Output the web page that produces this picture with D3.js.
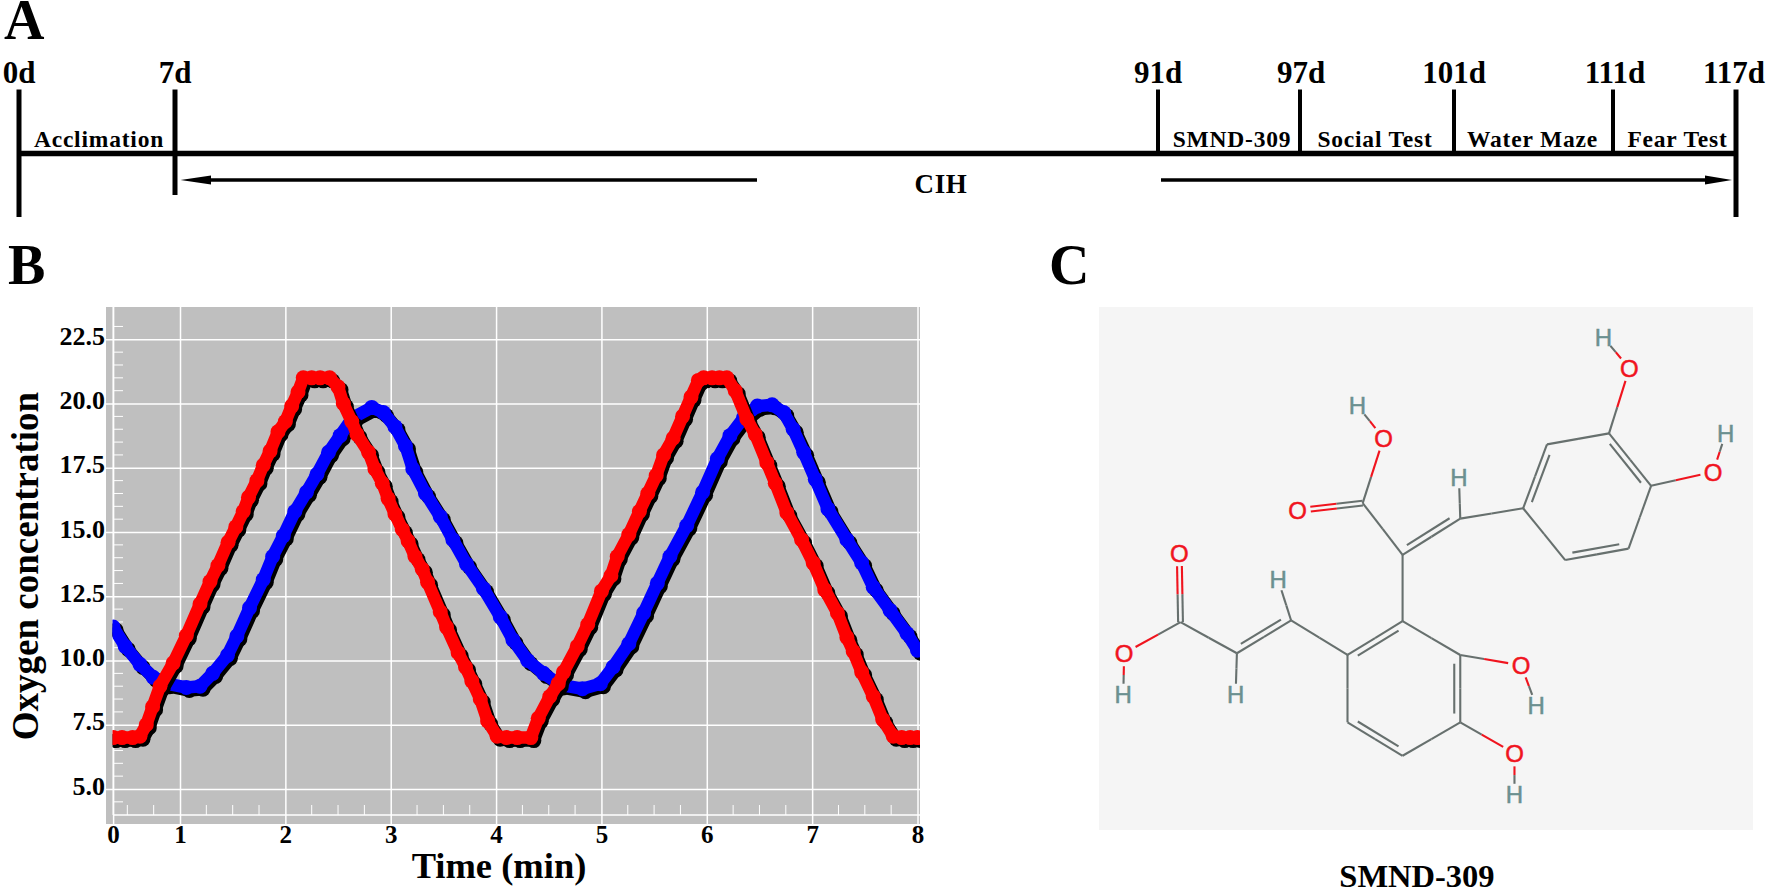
<!DOCTYPE html>
<html>
<head>
<meta charset="utf-8">
<script src="https://cdn.jsdelivr.net/npm/d3@7"></script>
<style>
    html, body { margin: 0; padding: 0; background: #fff; }
    text { font-family: "Liberation Serif", serif; font-weight: bold; fill: #000; }
    .mol text { font-family: "Liberation Sans", sans-serif; font-weight: normal; }
</style>
</head>
<body>
<div id="chart"></div>
<script>
// ---- A: timeline
const days = [0, 7, 91, 97, 101, 111, 117];
const dayLabels = ["0d", "7d", "91d", "97d", "101d", "111d", "117d"];
const stages = ["Acclimation", "SMND-309", "Social Test", "Water Maze", "Fear Test"];
const stageStart = [0, 91, 97, 101, 111];
const stageEnd = [7, 97, 101, 111, 117];

// ---- B: oxygen curves
const xTicks = [0.365, 1, 2, 3, 4, 5, 6, 7, 8];
const xTickLabels = ["0", "1", "2", "3", "4", "5", "6", "7", "8"];
const yTicks = [5, 7.5, 10, 12.5, 15, 17.5, 20, 22.5];

const redTime = [0.365, 0.45, 0.55, 0.62, 0.68, 0.74, 0.81, 0.935, 1.06, 1.19, 1.285, 1.36, 1.456, 1.53, 1.6, 1.65, 1.73, 1.79, 1.855, 1.93, 2.0, 2.06, 2.12, 2.17, 2.25, 2.33, 2.42, 2.5, 2.55, 2.63, 2.68, 2.79, 2.85, 2.92, 2.975, 3.04, 3.11, 3.165, 3.23, 3.3, 3.35, 3.47, 3.53, 3.64, 3.71, 3.77, 3.85, 3.92, 4.01, 4.1, 4.2, 4.33, 4.4, 4.51, 4.59, 4.64, 4.77, 4.87, 5.0, 5.09, 5.15, 5.26, 5.36, 5.44, 5.52, 5.59, 5.68, 5.77, 5.85, 5.92, 5.97, 6.05, 6.12, 6.19, 6.27, 6.38, 6.46, 6.57, 6.65, 6.76, 6.9, 7.01, 7.12, 7.24, 7.33, 7.39, 7.47, 7.58, 7.67, 7.77, 7.85, 7.93, 8.0];
const redO2 = [7, 7, 7, 7.05, 7.5, 8.2, 9.0, 9.9, 10.97, 12.2, 13.07, 13.7, 14.6, 15.2, 15.8, 16.35, 17.0, 17.6, 18.15, 18.9, 19.3, 19.9, 20.45, 21, 21, 21, 21, 20.65, 20, 19.3, 18.8, 18.1, 17.45, 16.9, 16.3, 15.7, 15.1, 14.65, 14.05, 13.55, 13.05, 11.9, 11.3, 10.3, 9.75, 9.2, 8.5, 7.65, 7.05, 7, 7, 7, 7.75, 8.6, 9.1, 9.55, 10.55, 11.4, 12.7, 13.3, 14.05, 14.9, 15.8, 16.5, 17.2, 18, 18.65, 19.5, 20.25, 20.9, 21, 21, 21, 21, 20.5, 19.4, 18.8, 17.7, 16.9, 15.75, 14.7, 13.8, 12.75, 11.85, 10.9, 10.35, 9.55, 8.6, 7.7, 7.05, 7, 7, 7];

const blueTime = [0.365, 0.48, 0.62, 0.745, 0.875, 1.06, 1.19, 1.31, 1.45, 1.54, 1.66, 1.79, 1.88, 1.98, 2.09, 2.2, 2.3, 2.41, 2.52, 2.64, 2.82, 2.93, 3.04, 3.14, 3.21, 3.33, 3.47, 3.59, 3.72, 3.88, 4.04, 4.16, 4.3, 4.45, 4.61, 4.82, 4.99, 5.11, 5.26, 5.4, 5.53, 5.65, 5.81, 5.96, 6.1, 6.22, 6.35, 6.48, 6.62, 6.73, 6.82, 6.92, 7.03, 7.15, 7.33, 7.47, 7.58, 7.74, 7.9, 8.0];
const blueO2 = [11.3, 10.55, 9.85, 9.35, 9.1, 8.95, 9.0, 9.5, 10.2, 10.95, 12.05, 13.15, 14.05, 14.85, 15.8, 16.55, 17.25, 18.1, 18.75, 19.45, 19.85, 19.65, 19.1, 18.35, 17.45, 16.5, 15.6, 14.7, 13.75, 12.8, 11.7, 10.8, 10, 9.5, 9.05, 8.9, 9.1, 9.75, 10.65, 11.85, 13, 14.05, 15.25, 16.55, 17.85, 18.75, 19.45, 19.9, 19.95, 19.65, 19, 18.1, 17.05, 15.9, 14.7, 13.8, 12.85, 11.95, 11.05, 10.4];

// ---- C: structure of SMND-309, atom places as drawn
const atomEl = ["C","C","C","C","C","C", "C","H","C","C","O","O","H", "C","C","C","C","C","C", "O","H","O","H", "C","H","C","H","C","O","O","H", "O","H","O","H"];
const atomX = [1000,1055,1198,1295,1243,1097, 855,852,722,630,480,678,618, 722,855,855,722,595,595, 995,1030,980,980, 465,435,340,337,210,207,80,78, 1245,1185,1438,1467];
const atomY = [605,420,388,540,722,755, 635,515,740,590,612,402,308, 932,1030,1225,1322,1225,1030, 1060,1175,1315,1435, 930,812,1025,1145,935,735,1025,1145, 200,110,500,388];
const bondFrom = [0,1,2,3,4,5, 0,6,6,8,9,9,11, 8,13,14,15,16,17,18, 14,19,15,21, 18,23,23,25,25,27,27,29, 2,31,3,33];
const bondTo   = [1,2,3,4,5,0, 6,7,8,9,10,11,12, 13,14,15,16,17,18,13, 19,20,21,22, 23,24,25,26,27,28,29,30, 31,32,33,34];
const bondOrder = [2,1,2,1,2,1, 1,1,2,1,2,1,1, 1,1,2,1,2,1,2, 1,1,1,1, 1,1,2,1,1,2,1,1, 1,1,1,1];
const bondSide  = [1,0,1,0,1,0, 0,0,1,0,0,0,0, 0,0,1,0,1,0,1, 0,0,0,0, 0,0,1,0,0,0,0,0, 0,0,0,0];

const WIDTH = 1771, HEIGHT = 892;

let svg = d3.select("#chart").append("svg")
    .attr("width", WIDTH)
    .attr("height", HEIGHT)
    .style("display", "block");

// panel letters
[["A", 4, 39], ["B", 8, 284], ["C", 1049, 284]].forEach(p => {
    svg.append("text").attr("x", p[1]).attr("y", p[2])
        .style("font-size", "56px").text(p[0]);
});

drawTimeline();
drawOxygen();
drawMolecule();

function drawTimeline() {
    let g = svg.append("g").attr("class", "timeline");

    // the schedule is not to scale in the figure
    let x = d3.scaleLinear().domain(days).range([19, 175, 1158, 1300, 1454, 1613, 1736]);
    let lineY = 153.5;

    g.append("line").attr("x1", x(0)).attr("x2", x(117))
        .attr("y1", lineY).attr("y2", lineY)
        .attr("stroke", "#000").attr("stroke-width", 5.5);

    let bottoms = {0: 217, 7: 195, 117: 217};
    g.selectAll(".day").data(days).enter().append("line")
        .attr("class", "day")
        .attr("x1", d => x(d)).attr("x2", d => x(d))
        .attr("y1", 89.5)
        .attr("y2", d => bottoms[d] || lineY)
        .attr("stroke", "#000")
        .attr("stroke-width", d => (d === 0 || d === 7 || d === 117) ? 5 : 4);

    let labelNudge = {97: 1, 111: 2, 117: -2};
    g.selectAll(".dayLabel").data(days).enter().append("text")
        .attr("class", "dayLabel")
        .attr("x", d => x(d) + (labelNudge[d] || 0))
        .attr("y", 82.5)
        .attr("text-anchor", "middle")
        .style("font-size", "31px")
        .text((d, i) => dayLabels[i]);

    let stageNudge = [2, 3, -2, -1, 3];
    g.selectAll(".stage").data(stages).enter().append("text")
        .attr("class", "stage")
        .attr("x", (d, i) => (x(stageStart[i]) + x(stageEnd[i])) / 2 + stageNudge[i])
        .attr("y", 147)
        .attr("text-anchor", "middle")
        .style("font-size", "23.5px")
        .style("letter-spacing", "0.8px")
        .text(d => d);

    // CIH arrows
    let arrowY = 180;
    g.append("line").attr("x1", 200).attr("x2", 757).attr("y1", arrowY).attr("y2", arrowY)
        .attr("stroke", "#000").attr("stroke-width", 3.5);
    g.append("line").attr("x1", 1161).attr("x2", 1710).attr("y1", arrowY).attr("y2", arrowY)
        .attr("stroke", "#000").attr("stroke-width", 3.5);
    g.append("path").attr("d", d3.line()([[180.5, arrowY], [211, arrowY - 4.5], [211, arrowY + 4.5]]) + "Z");
    g.append("path").attr("d", d3.line()([[1732, arrowY], [1705, arrowY - 4.5], [1705, arrowY + 4.5]]) + "Z");

    g.append("text").attr("x", 941).attr("y", 193)
        .attr("text-anchor", "middle")
        .style("font-size", "27px")
        .style("letter-spacing", "0.6px")
        .text("CIH");
}

function drawOxygen() {
    let panel = {left: 106, right: 920, top: 307, bottom: 824};
    let axisLeftPx = 113, axisBottomPx = 815;

    let g = svg.append("g").attr("class", "oxygen");

    g.append("rect")
        .attr("x", panel.left).attr("y", panel.top)
        .attr("width", panel.right - panel.left)
        .attr("height", panel.bottom - panel.top)
        .attr("fill", "#bfbfbf");

    let x = d3.scaleLinear().domain([1, 8]).range([180, 917.5]);
    let y = d3.scaleLinear().domain([5, 22.5]).range([789, 339.3]);

    // x axis, the long ticks are the grid
    let xAxis = d3.axisBottom(x)
        .tickValues(xTicks)
        .tickFormat((d, i) => xTickLabels[i])
        .tickSize(-(panel.bottom - panel.top))
        .tickPadding(0);

    let xG = g.append("g")
        .attr("transform", `translate(0, ${panel.bottom})`)
        .call(xAxis);
    xG.select(".domain").remove();
    xG.selectAll("line").attr("stroke", "#fff").attr("stroke-width", 1.5);
    xG.selectAll("text")
        .attr("y", 19).attr("dy", 0)
        .style("font-size", "25px");

    // y axis
    let yAxis = d3.axisLeft(y)
        .tickValues(yTicks)
        .tickFormat(d3.format(".1f"))
        .tickSize(-(panel.right - panel.left))
        .tickPadding(1);

    let yG = g.append("g")
        .attr("transform", `translate(${panel.left}, 0)`)
        .call(yAxis);
    yG.select(".domain").remove();
    yG.selectAll("line").attr("stroke", "#fff").attr("stroke-width", 1.5);
    yG.selectAll("text")
        .attr("dy", 5)
        .style("font-size", "26px");

    // inner axis lines with their small ticks
    g.append("line").attr("x1", axisLeftPx).attr("x2", panel.right)
        .attr("y1", axisBottomPx).attr("y2", axisBottomPx)
        .attr("stroke", "#fff").attr("stroke-width", 1.5);
    g.append("line").attr("x1", axisLeftPx).attr("x2", axisLeftPx)
        .attr("y1", panel.top).attr("y2", axisBottomPx)
        .attr("stroke", "#fff").attr("stroke-width", 1);

    let xMinor = d3.range(0.5, 8, 0.25).filter(d => d % 1 !== 0);
    g.selectAll(".xMinor").data(xMinor).enter().append("line")
        .attr("class", "xMinor")
        .attr("x1", d => x(d)).attr("x2", d => x(d))
        .attr("y1", axisBottomPx).attr("y2", axisBottomPx - 10)
        .attr("stroke", "#fff").attr("stroke-width", 1);

    let yMinor = d3.range(4.5, 23.5, 0.5).filter(d => d % 2.5 !== 0);
    g.selectAll(".yMinor").data(yMinor).enter().append("line")
        .attr("class", "yMinor")
        .attr("x1", axisLeftPx).attr("x2", axisLeftPx + 10)
        .attr("y1", d => y(d)).attr("y2", d => y(d))
        .attr("stroke", "#fff").attr("stroke-width", 1);

    // curves are cut at the left and right of the plot
    svg.append("clipPath").attr("id", "plotClip").append("rect")
        .attr("x", axisLeftPx - 0.5).attr("y", panel.top)
        .attr("width", panel.right - axisLeftPx + 0.5)
        .attr("height", panel.bottom - panel.top);

    let plot = g.append("g").attr("clip-path", "url(#plotClip)");
    drawSeries(plot, x, y, blueTime, blueO2, "#0000ff");
    drawSeries(plot, x, y, redTime, redO2, "#ff0000");

    g.append("text").attr("x", 499).attr("y", 878)
        .attr("text-anchor", "middle")
        .style("font-size", "36.5px")
        .text("Time (min)");

    g.append("text")
        .attr("transform", "translate(38, 566) rotate(-90)")
        .attr("text-anchor", "middle")
        .style("font-size", "37px")
        .text("Oxygen concentration");
}

function drawSeries(plot, x, y, times, values, color) {
    let pts = times.map((t, i) => [x(t), y(values[i])]);
    let line = d3.line();

    // black copy sits behind, shifted down and right
    [[3, 3, "#000"], [0, 0, color]].forEach(layer => {
        let s = plot.append("g").attr("transform", `translate(${layer[0]}, ${layer[1]})`);
        s.append("path")
            .attr("d", line(pts))
            .attr("fill", "none")
            .attr("stroke", layer[2])
            .attr("stroke-width", 12.5)
            .attr("stroke-linejoin", "round");
        s.selectAll("circle").data(pts).enter().append("circle")
            .attr("cx", d => d[0]).attr("cy", d => d[1])
            .attr("r", 7.5)
            .attr("fill", layer[2]);
    });
}

function drawMolecule() {
    let g = svg.append("g").attr("class", "mol");

    g.append("rect").attr("x", 1099).attr("y", 307)
        .attr("width", 654).attr("height", 523)
        .attr("fill", "#f5f5f5");

    let mx = d3.scaleLinear().domain([22, 1530]).range([1099, 1753]);
    let my = d3.scaleLinear().domain([22, 1537]).range([307, 830]);

    let colors = {C: "#67706e", O: "#f0141e", H: "#6b9090"};
    let gaps = {C: 0, O: 13, H: 11};

    let bonds = g.append("g");
    function seg(p, q, color) {
        bonds.append("line")
            .attr("x1", p[0]).attr("y1", p[1])
            .attr("x2", q[0]).attr("y2", q[1])
            .attr("stroke", color)
            .attr("stroke-width", 2.1);
    }
    // one stroke, coloured half and half between its two atoms
    function bondLine(p, q, ea, eb) {
        let mid = [(p[0] + q[0]) / 2, (p[1] + q[1]) / 2];
        seg(p, mid, colors[ea === "H" ? "C" : ea]);
        seg(mid, q, colors[eb === "H" ? "C" : eb]);
    }

    bondFrom.forEach((a, i) => {
        let b = bondTo[i];
        let pa = [mx(atomX[a]), my(atomY[a])];
        let pb = [mx(atomX[b]), my(atomY[b])];
        let dx = pb[0] - pa[0], dy = pb[1] - pa[1];
        let len = Math.hypot(dx, dy);
        let ux = dx / len, uy = dy / len;
        let ea = atomEl[a], eb = atomEl[b];
        let p = [pa[0] + ux * gaps[ea], pa[1] + uy * gaps[ea]];
        let q = [pb[0] - ux * gaps[eb], pb[1] - uy * gaps[eb]];

        if (bondOrder[i] === 1) {
            bondLine(p, q, ea, eb);
        } else if (bondSide[i] === 0) {
            // carbonyl: two strokes either side
            let nx = -uy * 2.4, ny = ux * 2.4;
            bondLine([p[0] + nx, p[1] + ny], [q[0] + nx, q[1] + ny], ea, eb);
            bondLine([p[0] - nx, p[1] - ny], [q[0] - nx, q[1] - ny], ea, eb);
        } else {
            // ring or vinyl: main stroke and a shorter inner one
            bondLine(p, q, ea, eb);
            let nx = -uy * 6 * bondSide[i], ny = ux * 6 * bondSide[i];
            let trim = len * 0.13;
            seg([p[0] + nx + ux * trim, p[1] + ny + uy * trim],
                [q[0] + nx - ux * trim, q[1] + ny - uy * trim], colors.C);
        }
    });

    g.selectAll(".atom")
        .data(atomEl.map((e, i) => ({el: e, x: atomX[i], y: atomY[i]})).filter(d => d.el !== "C"))
        .enter().append("text")
        .attr("class", "atom")
        .attr("x", d => mx(d.x))
        .attr("y", d => my(d.y))
        .attr("dy", "0.36em")
        .attr("text-anchor", "middle")
        .style("font-size", "24px")
        .style("fill", d => colors[d.el])
        .style("stroke", d => colors[d.el])
        .style("stroke-width", 0.5)
        .text(d => d.el);

    svg.append("text").attr("x", 1417).attr("y", 886.5)
        .attr("text-anchor", "middle")
        .style("font-size", "32.5px")
        .text("SMND-309");
}
</script>
</body>
</html>
